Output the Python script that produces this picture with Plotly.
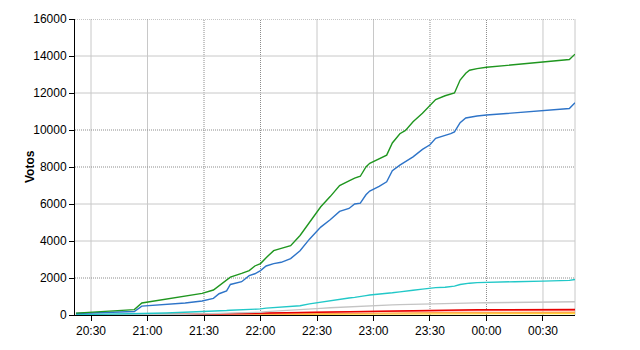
import plotly.graph_objects as go

DAY1 = "2000-01-01 "
DAY2 = "2000-01-02 "

times = ["20:22", "20:53", "20:57", "21:10", "21:20", "21:29", "21:35", "21:38", "21:42", "21:44",
         "21:50", "21:54", "21:57", "22:00", "22:03", "22:07", "22:11", "22:16", "22:21", "22:26",
         "22:32", "22:37", "22:42", "22:47", "22:50", "22:53", "22:56", "22:58", "23:03", "23:07",
         "23:10", "23:14", "23:17", "23:21", "23:26", "23:30", "23:33", "23:38", "23:41", "23:43",
         "23:46", "23:49", "23:51", "23:55", "00:00", "00:15", "00:30", "00:44", "00:47"]

green = [100, 290, 650, 850, 1000, 1170, 1350, 1600, 1900, 2050,
         2250, 2400, 2650, 2780, 3100, 3480, 3600, 3750, 4300, 5000,
         5850, 6400, 7000, 7250, 7400, 7500, 8000, 8200, 8450, 8640,
         9300, 9800, 9980, 10450, 10900, 11300, 11650, 11850, 11950, 12000,
         12700, 13070, 13230, 13320, 13390, 13540, 13690, 13810, 14100]

blue = [80, 190, 480, 560, 650, 760, 900, 1150, 1300, 1650,
        1800, 2130, 2230, 2400, 2650, 2780, 2850, 3050, 3470, 4100,
        4750, 5150, 5600, 5760, 6000, 6050, 6500, 6700, 6950, 7200,
        7800, 8100, 8300, 8550, 8950, 9200, 9550, 9700, 9800, 9900,
        10400, 10650, 10700, 10760, 10810, 10920, 11020, 11160, 11470]

cyan = [20, 40, 80, 110, 140, 180, 200, 220, 240, 260,
        280, 300, 320, 330, 370, 400, 420, 430, 500, 600,
        700, 780, 850, 920, 950, 980, 1050, 1080, 1120, 1150,
        1200, 1250, 1300, 1340, 1400, 1450, 1480, 1500, 1530, 1560,
        1650, 1700, 1720, 1750, 1770, 1800, 1830, 1870, 1920]

gray = [0, 5, 10, 20, 40, 60, 70, 80, 90, 100,
        110, 130, 140, 150, 180, 210, 230, 250, 280, 320,
        360, 390, 420, 450, 460, 470, 490, 500, 520, 540,
        550, 560, 570, 575, 580, 580, 590, 600, 610, 620,
        630, 640, 650, 655, 660, 690, 710, 715, 720]

red = [0, 5, 10, 20, 35, 50, 60, 65, 70, 75,
       85, 90, 95, 100, 110, 120, 130, 140, 150, 160,
       170, 180, 190, 200, 205, 210, 215, 220, 230, 240,
       245, 250, 255, 260, 265, 270, 272, 274, 276, 278,
       279, 280, 280, 280, 280, 285, 290, 295, 300]

salmon = [0, 4, 8, 15, 25, 40, 45, 50, 55, 60,
          65, 70, 75, 80, 90, 100, 110, 115, 125, 135,
          145, 155, 165, 175, 180, 185, 190, 195, 200, 205,
          210, 215, 220, 222, 226, 230, 232, 234, 236, 238,
          240, 242, 244, 246, 248, 252, 255, 258, 260]

orange = [0, 2, 4, 8, 12, 20, 22, 25, 28, 30,
          33, 36, 38, 40, 45, 50, 55, 60, 65, 70,
          75, 80, 85, 90, 93, 96, 100, 102, 105, 108,
          110, 113, 116, 118, 120, 125, 127, 128, 129, 130,
          132, 134, 135, 136, 137, 140, 143, 147, 150]

yellow = [0, 1, 2, 4, 6, 10, 11, 12, 13, 14,
          15, 17, 18, 20, 22, 25, 27, 30, 32, 35,
          38, 40, 43, 45, 46, 48, 50, 51, 53, 55,
          56, 58, 59, 60, 62, 63, 64, 65, 66, 67,
          68, 69, 70, 71, 72, 74, 76, 78, 80]

x_range = ["20:21:30", "00:47"]
x_ticks = ["20:30", "21:00", "21:30", "22:00", "22:30", "23:00", "23:30", "00:00", "00:30"]
x_dotted = ["21:30", "22:00", "23:30", "00:00"]
y_ticks = [0, 2000, 4000, 6000, 8000, 10000, 12000, 14000, 16000]
y_dotted = [2000, 8000, 10000, 16000]
y_title = "Votos"


def ts(t):
    return (DAY1 if int(t[:2]) >= 12 else DAY2) + t


xs = [ts(t) for t in times]

series = [
    ("Amarillo", yellow, "#ffd633"),
    ("Naranja", orange, "#ffa64d"),
    ("Rosa", salmon, "#ff8080"),
    ("Rojo", red, "#e60000"),
    ("Gris", gray, "#c4c4c4"),
    ("Cian", cyan, "#22c8c8"),
    ("Azul", blue, "#2e74c8"),
    ("Verde", green, "#1f961f"),
]

fig = go.Figure()
for name, vals, col in series:
    fig.add_trace(go.Scatter(x=xs, y=vals, mode="lines", name=name,
                             line=dict(color=col, width=1.4)))

shapes = []
for t in x_ticks:
    dotted = t in x_dotted
    shapes.append(dict(type="line", xref="x", yref="paper", x0=ts(t), x1=ts(t), y0=0, y1=1,
                       layer="below",
                       line=dict(color="#8c8c8c" if dotted else "#c8c8c8", width=1,
                                 dash="1px,1px" if dotted else "solid")))
for v in y_ticks[1:]:
    dotted = v in y_dotted
    shapes.append(dict(type="line", xref="paper", yref="y", x0=0, x1=1, y0=v, y1=v,
                       layer="below",
                       line=dict(color="#8c8c8c" if dotted else "#c8c8c8", width=1,
                                 dash="1px,1px" if dotted else "solid")))
# right border
shapes.append(dict(type="line", xref="paper", yref="paper", x0=1, x1=1, y0=0, y1=1,
                   layer="below", line=dict(color="#c8c8c8", width=1)))

fig.update_layout(
    width=640, height=350,
    margin=dict(l=75, r=65, t=15, b=35),
    paper_bgcolor="white", plot_bgcolor="white",
    showlegend=False,
    font=dict(family="Arial, Liberation Sans, sans-serif", size=12, color="black"),
    shapes=shapes,
    annotations=[dict(text="<b>%s</b>" % y_title, xref="paper", yref="paper",
                      x=-0.09, y=0.5, xanchor="center", yanchor="middle",
                      textangle=-90, showarrow=False, font=dict(size=12))],
    xaxis=dict(range=[ts(x_range[0]), ts(x_range[1])],
               tickvals=[ts(t) for t in x_ticks], ticktext=x_ticks,
               showgrid=False, zeroline=False,
               showline=True, linecolor="black", linewidth=1,
               ticks="outside", ticklen=5, tickcolor="black"),
    yaxis=dict(range=[0, 16000], tickvals=y_ticks, tickformat="d",
               showgrid=False, zeroline=False,
               showline=True, linecolor="black", linewidth=1,
               ticks="outside", ticklen=5, tickcolor="black"),
)

fig.write_html("out.html")
